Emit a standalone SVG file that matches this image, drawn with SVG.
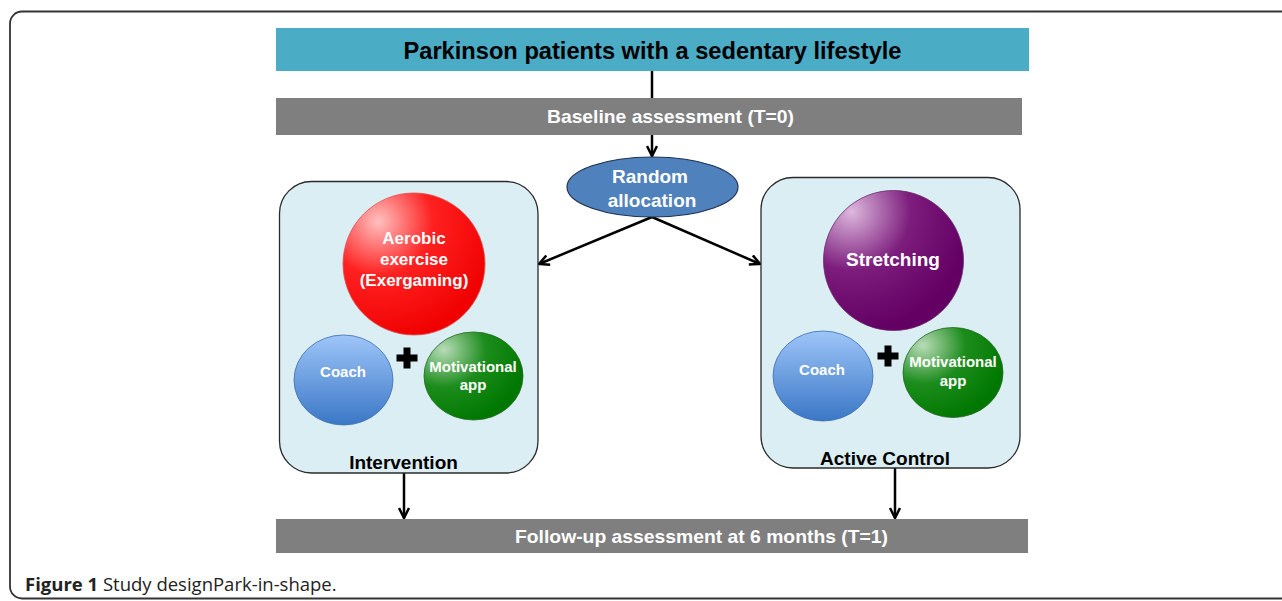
<svg xmlns="http://www.w3.org/2000/svg" width="1282" height="601" viewBox="0 0 1282 601">
<defs>
<style>
.bar{font-family:"Liberation Sans",Arial,sans-serif;font-weight:bold;fill:#fff;font-size:19px;text-anchor:middle}
.lbl{font-family:"Liberation Sans",Arial,sans-serif;font-weight:bold;fill:#fff;text-anchor:middle}
.blk{font-family:"Liberation Sans",Arial,sans-serif;font-weight:bold;fill:#000;font-size:19px;text-anchor:middle}
.conn{stroke:#000;stroke-width:2.5;fill:none}
.box{fill:#DAEEF3;stroke:#2b2b2b;stroke-width:1.3}
</style>
<marker id="arr" viewBox="0 0 12 12" refX="11" refY="6" markerWidth="12" markerHeight="12" markerUnits="userSpaceOnUse" orient="auto">
<polyline points="1,1 11,6 1,11" fill="none" stroke="#000" stroke-width="2.5"/>
</marker>
<radialGradient id="gRed" cx="0.25" cy="0.2" r="0.85">
<stop offset="0" stop-color="#FFC0C0"/><stop offset="0.45" stop-color="#FF2020"/><stop offset="1" stop-color="#F00000"/>
</radialGradient>
<radialGradient id="gPur" cx="0.2" cy="0.15" r="0.85">
<stop offset="0" stop-color="#DDB8DD"/><stop offset="0.5" stop-color="#7C1C7C"/><stop offset="1" stop-color="#640064"/>
</radialGradient>
<radialGradient id="gGrn" cx="0.2" cy="0.2" r="0.85">
<stop offset="0" stop-color="#B8DCB8"/><stop offset="0.5" stop-color="#1C8C1C"/><stop offset="1" stop-color="#007800"/>
</radialGradient>
<linearGradient id="gBlu" x1="0" y1="0" x2="0" y2="1">
<stop offset="0" stop-color="#9EC5F8"/><stop offset="1" stop-color="#3A77C6"/>
</linearGradient>
<symbol id="plus" viewBox="-11 -11 22 22" overflow="visible">
<path d="M-3.5,-10.5 H3.5 V-3.5 H10.5 V3.5 H3.5 V10.5 H-3.5 V3.5 H-10.5 V-3.5 H-3.5 Z" fill="#000"/>
</symbol>
</defs>
<rect x="0" y="0" width="1282" height="601" fill="#fff"/>
<rect x="10" y="11.5" width="1300" height="587" rx="12" fill="none" stroke="#333" stroke-width="1.8"/>

<g id="connectors">
<line class="conn" x1="652" y1="71" x2="652" y2="98"/>
<line class="conn" x1="652" y1="135" x2="652" y2="156" marker-end="url(#arr)"/>
<line class="conn" x1="652" y1="217" x2="539" y2="264" marker-end="url(#arr)"/>
<line class="conn" x1="652" y1="217" x2="760" y2="264" marker-end="url(#arr)"/>
<line class="conn" x1="404" y1="473" x2="404" y2="518" marker-end="url(#arr)"/>
<line class="conn" x1="895" y1="468" x2="895" y2="518" marker-end="url(#arr)"/>
</g>

<g id="population">
<rect x="276" y="28" width="753" height="43" fill="#4BACC6"/>
<text x="652.5" y="59" font-family="Liberation Sans, Arial, sans-serif" font-weight="bold" font-size="24" text-anchor="middle" textLength="498" lengthAdjust="spacingAndGlyphs">Parkinson patients with a sedentary lifestyle</text>
</g>

<g id="baseline">
<rect x="276" y="98" width="746" height="37" fill="#7F7F7F"/>
<text class="bar" x="670.5" y="123" textLength="247" lengthAdjust="spacingAndGlyphs">Baseline assessment (T=0)</text>
</g>

<g id="random">
<ellipse cx="652.5" cy="187" rx="85.5" ry="30" fill="#4F81BD" stroke="#1f3350" stroke-width="1.2"/>
<text class="lbl" x="650" y="183" font-size="19">Random</text>
<text class="lbl" x="652" y="207" font-size="19">allocation</text>
</g>

<g id="intervention">
<rect class="box" x="279.5" y="181.5" width="258.5" height="291.5" rx="32"/>
<circle cx="414" cy="264" r="71" fill="url(#gRed)" stroke="#e05050" stroke-width="0.8"/>
<text class="lbl" x="414" y="244" font-size="17">Aerobic</text>
<text class="lbl" x="414" y="265" font-size="17">exercise</text>
<text class="lbl" x="414" y="286" font-size="17">(Exergaming)</text>
<ellipse cx="343.5" cy="380" rx="49.5" ry="45" fill="url(#gBlu)" stroke="#3f6fae" stroke-width="0.8"/>
<text class="lbl" x="343" y="377" font-size="15">Coach</text>
<use href="#plus" x="396" y="347" width="22" height="22"/>
<ellipse cx="473.5" cy="376" rx="49.5" ry="44" fill="url(#gGrn)" stroke="#1f6a1f" stroke-width="0.8"/>
<text class="lbl" x="473" y="372" font-size="15">Motivational</text>
<text class="lbl" x="473" y="390" font-size="15">app</text>
<text class="blk" x="403.5" y="469">Intervention</text>
</g>

<g id="control">
<rect class="box" x="761" y="177.5" width="259" height="290.5" rx="32"/>
<circle cx="893.5" cy="260.5" r="70" fill="url(#gPur)" stroke="#6a2a6a" stroke-width="0.8"/>
<text class="lbl" x="893" y="266" font-size="19">Stretching</text>
<ellipse cx="823" cy="376" rx="50" ry="45" fill="url(#gBlu)" stroke="#3f6fae" stroke-width="0.8"/>
<text class="lbl" x="822" y="375" font-size="15">Coach</text>
<use href="#plus" x="877" y="345" width="22" height="22"/>
<ellipse cx="953" cy="372.5" rx="50" ry="45" fill="url(#gGrn)" stroke="#1f6a1f" stroke-width="0.8"/>
<text class="lbl" x="953" y="367" font-size="15">Motivational</text>
<text class="lbl" x="953" y="386" font-size="15">app</text>
<text class="blk" x="885" y="465">Active Control</text>
</g>

<g id="followup">
<rect x="276" y="519" width="752" height="34" fill="#7F7F7F"/>
<text class="bar" x="701.5" y="543" textLength="373" lengthAdjust="spacingAndGlyphs">Follow-up assessment at 6 months (T=1)</text>
</g>

<text x="25" y="591" font-family="Open Sans, sans-serif" font-size="18.5" fill="#222"><tspan font-weight="bold">Figure 1</tspan> Study designPark-in-shape.</text>
</svg>
